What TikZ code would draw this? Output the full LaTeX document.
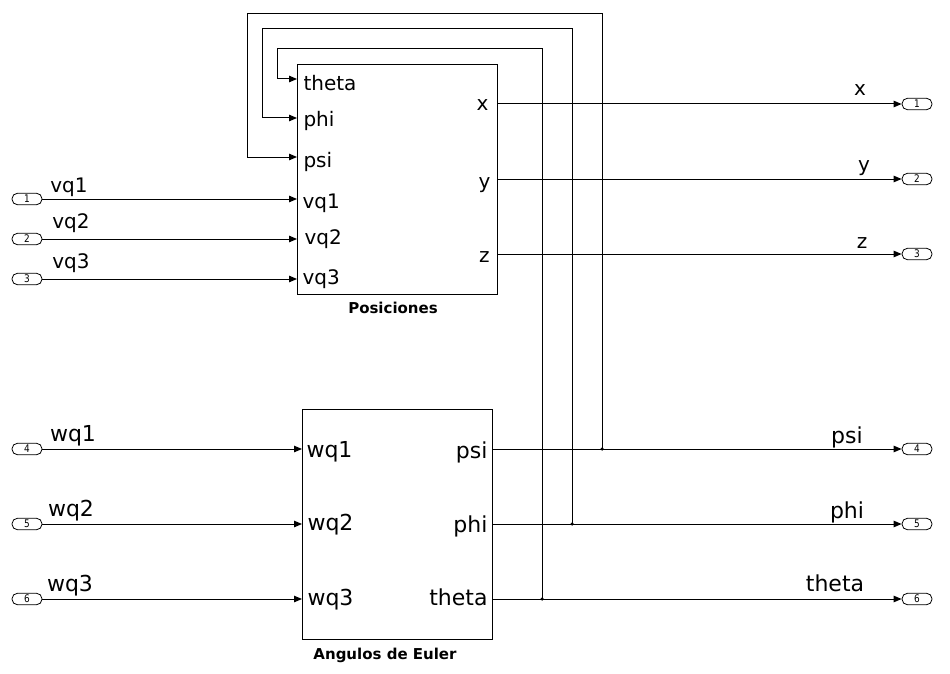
\documentclass[tikz,border=0pt]{standalone}
\usepackage{fontspec}
\setmainfont{DejaVu Sans}
\newfontfamily\portfont[FakeStretch=0.85]{DejaVu Sans}
\usetikzlibrary{arrows.meta}
\begin{document}
\begin{tikzpicture}[x=1pt,y=-1pt,
  line width=1pt,
  arr/.style={-{Triangle[length=8pt,width=6.5pt]}},
  port/.style={draw,line width=0.8pt,rounded corners=5.5pt,minimum width=30pt,minimum height=11.5pt,inner sep=0pt,font=\portfont\fontsize{10.5}{10.5}\selectfont},
  blk/.style={draw,anchor=north west,inner sep=0pt},
  lbA/.style={inner sep=0pt,font=\fontsize{20}{20}\selectfont},
  lbB/.style={inner sep=0pt,font=\fontsize{22}{22}\selectfont},
  blkcaption/.style={inner sep=0pt,anchor=base,font=\fontsize{15}{15}\selectfont\bfseries},
  jdot/.style={circle,fill,inner sep=0pt,minimum size=3.5pt}]
\useasboundingbox (0,0) rectangle (950,674);
% blocks
\node[blk,minimum width=200pt,minimum height=230pt] (pos) at (297,64) {};
\node[blk,minimum width=190pt,minimum height=230pt] (eul) at (302,409) {};
\node[blkcaption] (posc) at (393,313) {Posiciones};
\node[blkcaption] (eulc) at (385,659) {Angulos de Euler};
% block port labels
\node[lbA,anchor=base west] (pth) at (303,91) {theta};
\node[lbA,anchor=base west] (pph) at (303,127) {phi};
\node[lbA,anchor=base west] (pps) at (303,167) {psi};
\node[lbA,anchor=base west] (pv1) at (302,208) {vq1};
\node[lbA,anchor=base west] (pv2) at (304,244) {vq2};
\node[lbA,anchor=base west] (pv3) at (302,284) {vq3};
\node[lbA,anchor=base east] (pxl) at (489,111) {x};
\node[lbA,anchor=base east] (pyl) at (491,188) {y};
\node[lbA,anchor=base east] (pzl) at (490,262) {z};
\node[lbB,anchor=base west] (ew1) at (306,457) {wq1};
\node[lbB,anchor=base west] (ew2) at (307,530) {wq2};
\node[lbB,anchor=base west] (ew3) at (307,605) {wq3};
\node[lbB,anchor=base east] (eps) at (488,458) {psi};
\node[lbB,anchor=base east] (eph) at (488,532) {phi};
\node[lbB,anchor=base east] (eth) at (488,605) {theta};
% input ports
\node[port] (i1) at (27,199) {1};
\node[port] (i2) at (27,239) {2};
\node[port] (i3) at (27,279) {3};
\node[port] (i4) at (27,449) {4};
\node[port] (i5) at (27,524) {5};
\node[port] (i6) at (27,599) {6};
% output ports
\node[port] (o1) at (917,104) {1};
\node[port] (o2) at (917,179) {2};
\node[port] (o3) at (917,254) {3};
\node[port] (o4) at (917,449) {4};
\node[port] (o5) at (917,524) {5};
\node[port] (o6) at (917,599) {6};
% signal labels
\node[lbA,anchor=base] (lv1) at (69,192) {vq1};
\node[lbA,anchor=base] (lv2) at (71,228) {vq2};
\node[lbA,anchor=base] (lv3) at (71,268) {vq3};
\node[lbB,anchor=base] (lw1) at (73,441) {wq1};
\node[lbB,anchor=base] (lw2) at (71,516) {wq2};
\node[lbB,anchor=base] (lw3) at (70,591) {wq3};
\node[lbA,anchor=base] (lx) at (860,96) {x};
\node[lbA,anchor=base] (ly) at (864,171) {y};
\node[lbA,anchor=base] (lz) at (862,248) {z};
\node[lbB,anchor=base] (lpsi) at (847,443) {psi};
\node[lbB,anchor=base] (lphi) at (847,518) {phi};
\node[lbB,anchor=base] (lth) at (835,591) {theta};
% input connectors
\draw[arr] (i1.east) -- (pos.west |- i1);
\draw[arr] (i2.east) -- (pos.west |- i2);
\draw[arr] (i3.east) -- (pos.west |- i3);
\draw[arr] (i4.east) -- (eul.west |- i4);
\draw[arr] (i5.east) -- (eul.west |- i5);
\draw[arr] (i6.east) -- (eul.west |- i6);
% output connectors
\draw[arr] (pos.east |- o1) -- (o1.west);
\draw[arr] (pos.east |- o2) -- (o2.west);
\draw[arr] (pos.east |- o3) -- (o3.west);
\draw[arr] (eul.east |- o4) -- (o4.west);
\draw[arr] (eul.east |- o5) -- (o5.west);
\draw[arr] (eul.east |- o6) -- (o6.west);
% feedback
\coordinate (jpsi) at (602,449);
\coordinate (jphi) at (572,524);
\coordinate (jth) at (542,599);
\coordinate (tpsi) at (247,14);
\coordinate (tphi) at (262,29);
\coordinate (tth) at (277,49);
\coordinate (inpsi) at (297,157);
\coordinate (inphi) at (297,118);
\coordinate (inth) at (297,79);
\draw[arr] (jpsi) |- (tpsi) |- (inpsi);
\draw[arr] (jphi) |- (tphi) |- (inphi);
\draw[arr] (jth) |- (tth) |- (inth);
\node[jdot] (dpsi) at (jpsi) {};
\node[jdot] (dphi) at (jphi) {};
\node[jdot] (dth) at (jth) {};
\end{tikzpicture}
\end{document}
